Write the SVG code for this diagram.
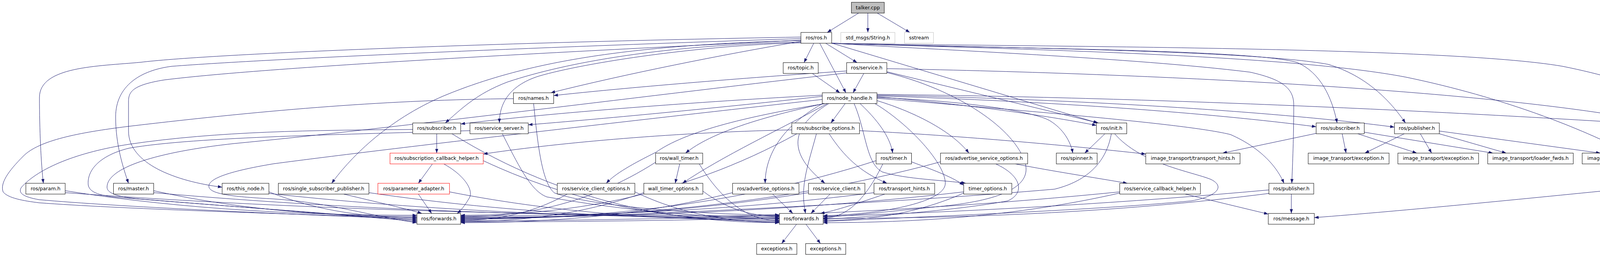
<svg xmlns="http://www.w3.org/2000/svg" width="4765" height="659" viewBox="0 0 4765 659">
<style>
.n rect{fill:#fff;stroke:#000;stroke-width:1}
.r rect{stroke:#ff0000}
.g rect{stroke:#bfbfbf}
.t rect{fill:#bfbfbf}
text{font-family:"DejaVu Sans","Liberation Sans",sans-serif;font-size:12.6px;text-anchor:middle;fill:#000}
.e path{fill:none;stroke:#191970;stroke-width:1;marker-end:url(#a)}
</style>
<defs>
<marker id="a" markerUnits="userSpaceOnUse" markerWidth="11" markerHeight="8" viewBox="0 0 11 8" refX="11" refY="4" orient="auto"><path d="M0,0 L11,4 L0,8 z" fill="#191970"/></marker>
</defs>
<rect x="0" y="0" width="4765" height="659" fill="#fff"/>
<g id="edges" class="e">
<path d="M2198,33.6 L2117.6,83.2"/>
<path d="M2221.7,33.6 L2221.7,83.2"/>
<path d="M2245.8,33.6 L2329.3,83.2"/>
<path d="M2083.2,110.9 L2058.3,160.6"/>
<path d="M2098.5,110.9 L2165.5,237.9"/>
<path d="M2113.8,110.9 L2194.2,160.6"/>
<path d="M2079.4,188.3 L2150.2,237.9"/>
<path d="M2211.4,188.3 L2183.8,237.9"/>
<path d="M2050.3,106 C1850,140 1600,190 1410,237.9"/>
<path d="M2050.3,95 C1200,110 520,140 360,159.7 C250,170 101,170 101,250 C101,330 105,420 111,470"/>
<path d="M2050.3,99 C1400,120 700,150 440,170 C360,180 296,220 296,300 C296,370 315,430 329,470"/>
<path d="M2050.3,103 C1500,130 700,170 420,205 C340,218 329,235 329,260 L329,336 C329,420 450,465 568.7,480"/>
<path d="M2050.3,104 C1600,115 1350,160 1150,240 C1000,300 900,400 849,470"/>
<path d="M2050.3,108 C1700,115 1450,160 1300,210 C1220,240 1180,280 1140,315.3"/>
<path d="M2050.3,110 C1800,115 1500,160 1380,195 C1300,220 1278,270 1278.5,315.3"/>
<path d="M2129.1,110.5 L2810,315.3"/>
<path d="M2129.1,110.9 C2400,128 2900,148 3200,185 C3290,205 3312,230 3312,270 C3312,350 3309,420 3307,470"/>
<path d="M2129.1,110.9 C2500,124 3200,125 3320,160 C3380,185 3410,250 3423,315.3"/>
<path d="M2129.1,110.9 C2500,122 3200,128 3400,165 C3500,195 3560,260 3598,315.3"/>
<path d="M2129.1,110.9 C2600,120 3700,118 4000,170 C4200,210 4330,270 4375,315.3"/>
<path d="M2129.1,110.9 C2600,126 3300,140 3600,198 C3850,250 4050,330 4170,392.6"/>
<path d="M2167.4,182 C1900,200 1600,225 1417.4,245"/>
<path d="M2270.3,184 L2812,315.3"/>
<path d="M2270.3,176 C3000,190 3700,230 4100,290 C4300,330 4390,370 4388,410 C4385,450 4300,470 4180,482 C3900,510 3600,540 3364.7,558"/>
<path d="M2167.4,187 C1700,240 1000,330 600,368 C400,390 274,430 274,480 C274,500 320,508 380,512 C600,530 900,552 1067.3,568"/>
<path d="M2270.3,186 C2450,230 2600,330 2625,420 C2640,480 2560,515 2400,530 C2250,545 2150,556 2107.3,556"/>
<path d="M2105,255 C1700,300 1000,380 700,420 C580,440 530,460 535,480 C540,498 600,505 700,510 C850,520 950,555 1067.3,571"/>
<path d="M2240,265.6 C2330,320 2420,420 2420,470 C2420,520 2250,550 2107.3,553"/>
<path d="M2105,244 C1800,260 1400,290 1179.4,318"/>
<path d="M2105,247 C1900,270 1600,300 1352.3,320"/>
<path d="M2110,265.6 C1950,300 1820,340 1755,392.6"/>
<path d="M2112,265.6 C1900,300 1750,340 1680,390 C1620,420 1575,445 1552,470"/>
<path d="M2118,265.6 C2000,330 1850,400 1747,470"/>
<path d="M2106,265.6 C1980,336 1958.8,420 1958.8,470"/>
<path d="M2121.5,265.6 C2006.7,336 2029.6,403.5 2111.9,470"/>
<path d="M2201.8,265.6 C2259,319.5 2280,360 2285.3,392.6"/>
<path d="M2186.5,265.6 C2217,336 2217,420 2259,441 C2320,460 2420,462 2472.7,470"/>
<path d="M2245,258 C2350,290 2440,340 2480.4,392.6"/>
<path d="M2245,250 C2500,260 2660,290 2690,311 C2720,330 2740,360 2746.4,392.6"/>
<path d="M2245,248 C2500,270 2700,300 2806.8,321.6"/>
<path d="M2245,246 C2700,260 3100,290 3369.3,325"/>
<path d="M2245,244 C2800,255 3300,290 3569.8,326"/>
<path d="M2245,252 C2700,290 3050,320 3150,345 C3230,380 3270,430 3287,470"/>
<path d="M2245,242 C3000,250 3800,290 4340.3,326.5"/>
<path d="M2163.6,265.6 L2127.2,315.3"/>
<path d="M2027,333 C1700,340 1400,370 1237.1,395"/>
<path d="M2122.6,343 C2160,400 2200,440 2270.7,470"/>
<path d="M2200.3,335 C2500,350 2800,380 2933.1,395"/>
<path d="M2040,343 C1739,510 1437,552 1179.4,552"/>
<path d="M2090,343 C2075,400 2057,450 2057,500 C2057,520 2060,535 2062,547.3"/>
<path d="M1118,343 L1118,392.6"/>
<path d="M1056.6,332 C800,334 560,336 330,370 C200,390 100,430 55,480 C45,495 60,505 100,512 C300,530 700,548 1067.3,562"/>
<path d="M1157,343 C1450.3,525.4 1743.8,571 1995.2,571"/>
<path d="M1203.1,335 C900,345 500,350 330,380 C250,400 222,440 226,475 C230,495 260,502 300,506 C600,530 900,552 1067.3,565"/>
<path d="M1286,343 C1330,430 1360,490 1400,505 C1600,540 1800,558 1995.2,560"/>
<path d="M1314.4,253 C1000,256 700,280 329,324 C200,340 100,360 60,400 C20,440 0,470 8,492 C20,508 60,515 100,520 C300,535 700,548 1067.3,559"/>
<path d="M1366,265.6 C1375,350 1385,470 1420,495 C1520,530 1800,551 1995.2,551"/>
<path d="M1107,420.3 L1071,470"/>
<path d="M1136,420.3 C1190,450 1215,490 1200,510 C1190,527 1180,540 1170,547.3"/>
<path d="M1237.1,412 C1502.4,536.8 1767.8,568 1995.2,568"/>
<path d="M1071,497.7 L1105,547.3"/>
<path d="M1150.7,492 C1446.3,550.4 1741.9,565 1995.2,565"/>
<path d="M166.9,489 C482,539.4 797,552 1067.3,552"/>
<path d="M166.9,494 C806.8,541 1446.7,553 1995.2,553"/>
<path d="M393.4,489 C629.3,541.8 865.1,555 1067.3,555"/>
<path d="M393.4,494 C954,543.6 1514.7,556 1995.2,556"/>
<path d="M688.4,492 C821,544.8 953.6,558 1067.3,558"/>
<path d="M688.4,496 C1145.8,546.4 1603.2,559 1995.2,559"/>
<path d="M880,497.7 C930,510 1040,535 1080,547.3"/>
<path d="M944.4,494 C1312.2,548.4 1680,562 1995.2,562"/>
<path d="M1740,420.3 L1728.5,470"/>
<path d="M1678.4,416 C1503.7,528 1329,556 1179.4,556"/>
<path d="M1790,420.3 C1861.8,536.9 1933.6,566 1995.2,566"/>
<path d="M1452,497.7 C1356.6,551.5 1261,565 1179.4,565"/>
<path d="M1625.2,492 C1754.7,554.4 1884.2,570 1995.2,570"/>
<path d="M1648.2,494 C1484,553 1320,568 1179.4,568"/>
<path d="M1799.3,490 C1867.9,542 1936.4,555 1995.2,555"/>
<path d="M1875.4,494 C1631.8,555.6 1388,571 1179.4,571"/>
<path d="M1978,497.7 L2029.6,547.3"/>
<path d="M2069.8,494 C1758,546 1446.5,559 1179.4,559"/>
<path d="M2125,497.7 L2076,547.3"/>
<path d="M2237.4,494 C1867,542 1497,554 1179.4,554"/>
<path d="M2265,497.7 C2200,520 2140,540 2100,547.3"/>
<path d="M2333.5,415 C2400,440 2440,455 2467,475"/>
<path d="M2242.8,412 C1870.6,532 1498.4,562 1179.4,562"/>
<path d="M2260,420.3 C2206.6,531.3 2153.1,559 2107.3,559"/>
<path d="M2467,492 C2016,544 1565.7,557 1179.4,557"/>
<path d="M2467,495 C2341,551 2215,565 2107.3,565"/>
<path d="M2599,420.3 C2700,440 2800,455 2886,470"/>
<path d="M2407.7,415 C1977.8,531 1547.9,560 1179.4,560"/>
<path d="M2549,420.3 C2615,450 2625,495 2580,515 C2450,540 2200,558 2107.3,562"/>
<path d="M2828.6,343 L2777,392.6"/>
<path d="M2845,343 C2835,400 2800,460 2700,485 C2300,520 1600,555 1179.4,563"/>
<path d="M2853.5,343 C2920,420 3050,440 3100,460 C3140,480 3110,505 3050,515 C2800,540 2300,558 2107.3,568"/>
<path d="M3034,497.7 L3246.8,549"/>
<path d="M2866.5,492 C2276,551 1685.5,566 1179.4,566"/>
<path d="M2866.5,495 C2600.8,555.8 2335,571 2107.3,571"/>
<path d="M3305.8,497.7 L3305.8,547.3"/>
<path d="M3248.4,487 C2524.2,552.6 1800,569 1179.4,569"/>
<path d="M3248.4,496 C2849,547 2449.6,560 2107.3,560"/>
<path d="M3369.3,342 L3130,392.6"/>
<path d="M3436,343 L3446,392.6"/>
<path d="M3476,343 L3627,392.6"/>
<path d="M3492.5,339 L3822,392.6"/>
<path d="M3595,343 L3494,392.6"/>
<path d="M3636,343 L3665,392.6"/>
<path d="M3684.6,343 L3856,392.6"/>
<path d="M3684.6,336 L4097,392.6"/>
<path d="M4419.5,343 L4478.8,392.6"/>
<path d="M4458,343 C4520,360 4560,375 4575,400 C4590,430 4590,480 4565,547.3"/>
<path d="M4494,420.3 L4486,470"/>
<path d="M4507.5,420.3 C4525,450 4540,480 4553,547.3"/>
<path d="M4496,497.7 L4538,547.3"/>
<path d="M4528.6,575 L4433,624.6"/>
<path d="M4547.7,575 L4517,624.6"/>
<path d="M4568.7,575 L4597.5,624.6"/>
<path d="M4587.9,575 L4681.6,624.6"/>
<path d="M2039.2,575 L2000.9,624.6"/>
<path d="M2063.3,575 L2100.4,624.6"/>
</g>
<g id="n-talker" class="n t"><rect x="2179.6" y="5.9" width="84.2" height="27.7"/><text x="2221.7" y="23.7">talker.cpp</text></g>
<g id="n-ros" class="n"><rect x="2050.3" y="83.2" width="78.8" height="27.7"/><text x="2089.7" y="101">ros/ros.h</text></g>
<g id="n-stdmsgs" class="n g"><rect x="2152.5" y="83.2" width="138.5" height="27.7"/><text x="2221.75" y="101">std_msgs/String.h</text></g>
<g id="n-sstream" class="n g"><rect x="2315.5" y="83.2" width="74.2" height="27.7"/><text x="2352.6" y="101">sstream</text></g>
<g id="n-topic" class="n"><rect x="2005" y="160.6" width="89.7" height="27.7"/><text x="2049.85" y="178.4">ros/topic.h</text></g>
<g id="n-service" class="n"><rect x="2167.4" y="160.6" width="102.9" height="27.7"/><text x="2218.85" y="178.4">ros/service.h</text></g>
<g id="n-names" class="n"><rect x="1314.4" y="237.9" width="103" height="27.7"/><text x="1365.9" y="255.7">ros/names.h</text></g>
<g id="n-nodehandle" class="n"><rect x="2105" y="237.9" width="140" height="27.7"/><text x="2175" y="255.7">ros/node_handle.h</text></g>
<g id="n-subA" class="n"><rect x="1056.6" y="315.3" width="122.8" height="27.7"/><text x="1118" y="333.1">ros/subscriber.h</text></g>
<g id="n-ssrv" class="n"><rect x="1203.1" y="315.3" width="149.2" height="27.7"/><text x="1277.7" y="333.1">ros/service_server.h</text></g>
<g id="n-subopt" class="n"><rect x="2027" y="315.3" width="173.3" height="27.7"/><text x="2113.65" y="333.1">ros/subscribe_options.h</text></g>
<g id="n-init" class="n"><rect x="2806.8" y="315.3" width="77.7" height="27.7"/><text x="2845.65" y="333.1">ros/init.h</text></g>
<g id="n-subB" class="n"><rect x="3369.3" y="315.3" width="123.2" height="27.7"/><text x="3430.9" y="333.1">ros/subscriber.h</text></g>
<g id="n-pubB" class="n"><rect x="3569.8" y="315.3" width="114.8" height="27.7"/><text x="3627.2" y="333.1">ros/publisher.h</text></g>
<g id="n-subC" class="n"><rect x="4340.3" y="315.3" width="122.8" height="27.7"/><text x="4401.7" y="333.1">ros/subscriber.h</text></g>
<g id="n-sch" class="n r"><rect x="998.4" y="392.6" width="238.7" height="27.7"/><text x="1117.75" y="410.4">ros/subscription_callback_helper.h</text></g>
<g id="n-walltimer" class="n"><rect x="1678.4" y="392.6" width="120.5" height="27.7"/><text x="1738.65" y="410.4">ros/wall_timer.h</text></g>
<g id="n-timer" class="n"><rect x="2242.8" y="392.6" width="90.7" height="27.7"/><text x="2288.15" y="410.4">ros/timer.h</text></g>
<g id="n-aso" class="n"><rect x="2407.7" y="392.6" width="223.1" height="27.7"/><text x="2519.25" y="410.4">ros/advertise_service_options.h</text></g>
<g id="n-spinner" class="n"><rect x="2704.2" y="392.6" width="104.5" height="27.7"/><text x="2756.45" y="410.4">ros/spinner.h</text></g>
<g id="n-itth" class="n"><rect x="2933.1" y="392.6" width="241.4" height="27.7"/><text x="3053.8" y="410.4">image_transport/transport_hints.h</text></g>
<g id="n-itex1" class="n"><rect x="3349" y="392.6" width="207" height="27.7"/><text x="3452.5" y="410.4">image_transport/exception.h</text></g>
<g id="n-itex2" class="n"><rect x="3578.6" y="392.6" width="206.6" height="27.7"/><text x="3681.9" y="410.4">image_transport/exception.h</text></g>
<g id="n-itlf" class="n"><rect x="3808.6" y="392.6" width="218.9" height="27.7"/><text x="3918.05" y="410.4">image_transport/loader_fwds.h</text></g>
<g id="n-itssp" class="n"><rect x="4050.4" y="392.6" width="319" height="27.7"/><text x="4209.9" y="410.4">image_transport/single_subscriber_publisher.h</text></g>
<g id="n-sf" class="n"><rect x="4442.5" y="392.6" width="111" height="27.7"/><text x="4498" y="410.4">simple_filter.h</text></g>
<g id="n-param" class="n"><rect x="66.2" y="470" width="100.7" height="27.7"/><text x="116.55" y="487.8">ros/param.h</text></g>
<g id="n-master" class="n"><rect x="290.5" y="470" width="102.9" height="27.7"/><text x="341.95" y="487.8">ros/master.h</text></g>
<g id="n-thisnode" class="n"><rect x="568.7" y="470" width="119.7" height="27.7"/><text x="628.55" y="487.8">ros/this_node.h</text></g>
<g id="n-ssp" class="n"><rect x="712.5" y="470" width="231.9" height="27.7"/><text x="828.45" y="487.8">ros/single_subscriber_publisher.h</text></g>
<g id="n-pa" class="n r"><rect x="967.4" y="470" width="183.3" height="27.7"/><text x="1059.05" y="487.8">ros/parameter_adapter.h</text></g>
<g id="n-sco" class="n"><rect x="1426.6" y="470" width="198.6" height="27.7"/><text x="1525.9" y="487.8">ros/service_client_options.h</text></g>
<g id="n-wto" class="n"><rect x="1648.2" y="470" width="151.1" height="27.7"/><text x="1723.75" y="487.8">wall_timer_options.h</text></g>
<g id="n-ao" class="n"><rect x="1875.4" y="470" width="169.9" height="27.7"/><text x="1960.35" y="487.8">ros/advertise_options.h</text></g>
<g id="n-sc" class="n"><rect x="2069.8" y="470" width="144.3" height="27.7"/><text x="2141.95" y="487.8">ros/service_client.h</text></g>
<g id="n-th" class="n"><rect x="2237.4" y="470" width="155.4" height="27.7"/><text x="2315.1" y="487.8">ros/transport_hints.h</text></g>
<g id="n-to" class="n"><rect x="2467" y="470" width="123.2" height="27.7"/><text x="2528.6" y="487.8">timer_options.h</text></g>
<g id="n-scbh" class="n"><rect x="2866.5" y="470" width="206.6" height="27.7"/><text x="2969.8" y="487.8">ros/service_callback_helper.h</text></g>
<g id="n-pubA" class="n"><rect x="3248.4" y="470" width="114.8" height="27.7"/><text x="3305.8" y="487.8">ros/publisher.h</text></g>
<g id="n-signal1" class="n"><rect x="4442.5" y="470" width="78.8" height="27.7"/><text x="4481.9" y="487.8">signal1.h</text></g>
<g id="n-fw1" class="n"><rect x="1067.3" y="547.3" width="112.1" height="27.7"/><text x="1123.35" y="565.1">ros/forwards.h</text></g>
<g id="n-fw2" class="n"><rect x="1995.2" y="547.3" width="112.1" height="27.7"/><text x="2051.25" y="565.1">ros/forwards.h</text></g>
<g id="n-message" class="n"><rect x="3246.8" y="547.3" width="117.9" height="27.7"/><text x="3305.75" y="565.1">ros/message.h</text></g>
<g id="n-connection" class="n"><rect x="4505.6" y="547.3" width="104.9" height="27.7"/><text x="4558.05" y="565.1">connection.h</text></g>
<g id="n-ex1" class="n"><rect x="1937" y="624.6" width="103" height="27.7"/><text x="1988.5" y="642.4">exceptions.h</text></g>
<g id="n-ex2" class="n"><rect x="2062.5" y="624.6" width="102.6" height="27.7"/><text x="2113.8" y="642.4">exceptions.h</text></g>
<g id="n-mac1" class="n"><rect x="4356.4" y="624.6" width="83" height="27.7"/><text x="4397.9" y="642.4">macros.h</text></g>
<g id="n-mac2" class="n"><rect x="4463.1" y="624.6" width="82.7" height="27.7"/><text x="4504.45" y="642.4">macros.h</text></g>
<g id="n-mac3" class="n"><rect x="4569.9" y="624.6" width="82.7" height="27.7"/><text x="4611.25" y="642.4">macros.h</text></g>
<g id="n-mac4" class="n"><rect x="4676.3" y="624.6" width="82.7" height="27.7"/><text x="4717.65" y="642.4">macros.h</text></g>
</svg>
